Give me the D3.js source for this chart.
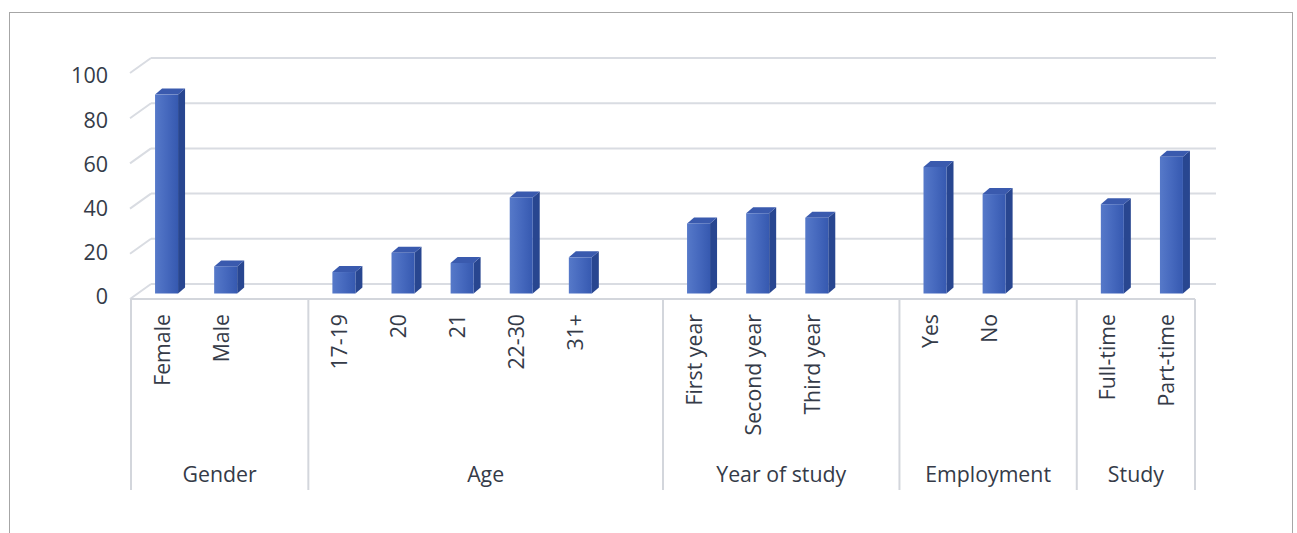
<!DOCTYPE html>
<html>
<head>
<meta charset="utf-8">
<script src="https://cdn.jsdelivr.net/npm/d3@7"></script>
<style>
  html, body { margin: 0; padding: 0; background: #fff; }
  svg { display: block; }
</style>
</head>
<body>
<svg id="chart" width="1297" height="533"></svg>
<script>
const groups = ["Gender", "Age", "Year of study", "Employment", "Study"];
const categories = ["Female", "Male", "17-19", "20", "21", "22-30", "31+",
  "First year", "Second year", "Third year", "Yes", "No", "Full-time", "Part-time"];
const categoryGroup = ["Gender", "Gender", "Age", "Age", "Age", "Age", "Age",
  "Year of study", "Year of study", "Year of study", "Employment", "Employment", "Study", "Study"];
const values = [88, 12, 9.5, 18, 13.5, 42.5, 16, 31, 35.5, 33.5, 56, 44, 39.5, 60.5];
const yTicks = [0, 20, 40, 60, 80, 100];

const width = 1297, height = 533;
const textColor = "#353b48";
const gridColor = "#d9dce2";
const font = "'Open Sans', sans-serif";

// 3D depth of the walls and the bars
const DX = 20, DY = -15;
const BDX = 7, BDY = -6;

// slots: each group followed by an empty slot (except the last one)
const slots = [];
groups.forEach((g, gi) => {
  categories.forEach((c, i) => {
    if (categoryGroup[i] === g) slots.push({ key: c, cat: c, group: g, value: values[i] });
  });
  if (gi < groups.length - 1) slots.push({ key: "blank" + gi, cat: null, group: g });
});

const svg = d3.select("#chart");

const defs = svg.append("defs");
const grad = defs.append("linearGradient").attr("id", "barFront")
  .attr("x1", "0").attr("x2", "1").attr("y1", "0").attr("y2", "0");
grad.append("stop").attr("offset", "0").attr("stop-color", "#5679c9");
grad.append("stop").attr("offset", "0.5").attr("stop-color", "#4669be");
grad.append("stop").attr("offset", "1").attr("stop-color", "#3659b0");

// outer frame
svg.append("rect")
  .attr("x", 9.5).attr("y", 12.5)
  .attr("width", 1283).attr("height", 540)
  .attr("fill", "none").attr("stroke", "#a6a6a6").attr("stroke-width", 1);

const x = d3.scaleBand()
  .domain(slots.map(d => d.key))
  .range([131, 1195])
  .padding(0);

const y = d3.scaleLinear().domain([0, 100]).range([299, 73]);
const yBar = d3.scaleLinear().domain([0, 100]).range([293.5, 67.5]);
const yLabel = d3.scaleLinear().domain([0, 100]).range([297, 76]);

const x0 = x.range()[0], x1 = x.range()[1];

// back wall gridlines + side wall diagonals
const grid = svg.append("g").attr("class", "grid")
  .attr("stroke", gridColor).attr("stroke-width", 2).attr("fill", "none");

grid.selectAll("line.back")
  .data(yTicks)
  .join("line")
  .attr("class", "back")
  .attr("x1", x0 + DX).attr("x2", x1 + DX + 1)
  .attr("y1", d => y(d) + DY).attr("y2", d => y(d) + DY);

grid.selectAll("line.side")
  .data(yTicks)
  .join("line")
  .attr("class", "side")
  .attr("x1", x0 - 1).attr("x2", x0 + DX)
  .attr("y1", d => y(d)).attr("y2", d => y(d) + DY);

// y axis labels
const yAxis = svg.append("g")
  .attr("transform", "translate(108,0)")
  .call(d3.axisLeft(yLabel).tickValues(yTicks).tickSize(0).tickPadding(0));
yAxis.select(".domain").remove();
yAxis.selectAll("text")
  .attr("font-family", font)
  .attr("font-size", 21.5)
  .attr("fill", textColor);

// category axis: front floor line and group separators
const axis = svg.append("g").attr("stroke", "#d3d6dc").attr("stroke-width", 2);
axis.append("line")
  .attr("x1", x0).attr("x2", x1)
  .attr("y1", y(0)).attr("y2", y(0));

const groupSpans = groups.map(g => {
  const s = slots.filter(d => d.group === g);
  return { group: g, start: x(s[0].key), end: x(s[s.length - 1].key) + x.bandwidth() };
});
const seps = [x0].concat(groupSpans.map(d => d.end));
axis.selectAll("line.sep")
  .data(seps)
  .join("line")
  .attr("class", "sep")
  .attr("x1", d => d).attr("x2", d => d)
  .attr("y1", y(0)).attr("y2", 490);

// bars (3D columns)
const barW = 23;
const bars = svg.append("g").attr("class", "bars")
  .selectAll("g")
  .data(slots.filter(d => d.cat))
  .join("g");

const bx = d => x(d.key) + x.bandwidth() / 2 + 6 - barW / 2;

bars.append("path")
  .attr("fill", "#284690")
  .attr("d", d => {
    const l = bx(d) + barW, t = yBar(d.value), b = yBar(0);
    return `M${l},${b}L${l},${t}L${l + BDX},${t + BDY}L${l + BDX},${b + BDY}Z`;
  });

bars.append("path")
  .attr("fill", "#3a5aae")
  .attr("d", d => {
    const l = bx(d), t = yBar(d.value);
    return `M${l},${t}L${l + BDX},${t + BDY}L${l + barW + BDX},${t + BDY}L${l + barW},${t}Z`;
  });

bars.append("rect")
  .attr("fill", "url(#barFront)")
  .attr("x", d => bx(d))
  .attr("y", d => yBar(d.value))
  .attr("width", barW)
  .attr("height", d => yBar(0) - yBar(d.value));

// category labels (rotated)
svg.append("g")
  .selectAll("text")
  .data(slots.filter(d => d.cat))
  .join("text")
  .attr("transform", d => `translate(${x(d.key) + x.bandwidth() / 2 + 1.5},314) rotate(-90)`)
  .attr("text-anchor", "end")
  .attr("dy", "0.35em")
  .attr("font-family", font)
  .attr("font-size", 21.3)
  .attr("fill", textColor)
  .text(d => d.cat);

// group labels
svg.append("g")
  .selectAll("text")
  .data(groupSpans)
  .join("text")
  .attr("x", d => (d.start + d.end) / 2)
  .attr("y", 482)
  .attr("text-anchor", "middle")
  .attr("font-family", font)
  .attr("font-size", 21.3)
  .attr("fill", textColor)
  .text(d => d.group);
</script>
</body>
</html>
